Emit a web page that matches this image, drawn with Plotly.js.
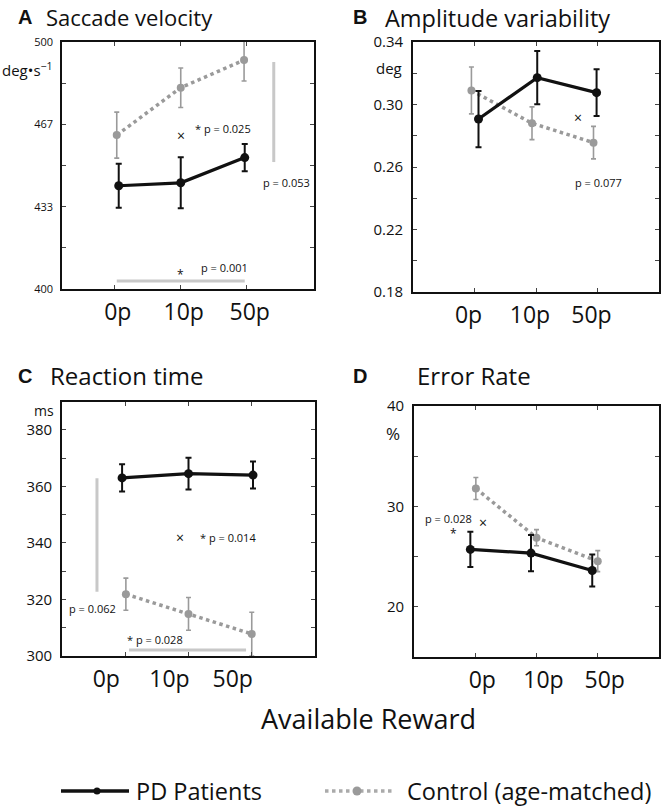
<!DOCTYPE html>
<html><head><meta charset="utf-8">
<script src="https://cdn.plot.ly/plotly-3.0.1.min.js"></script>
<style>html,body{margin:0;padding:0;background:#fff}#chart{width:661px;height:810px}</style>
</head><body><div id="chart"></div>
<script>
// ---------- data ----------
const rewards = ['0p', '10p', '50p'];
const rewardPos = [1, 2, 3];

// A: saccade velocity (deg/s)
const velPD = [441.8, 443.0, 453.2];
const velPDErr = [8.9, 10.3, 5.5];
const velCtl = [462.3, 481.5, 492.7];
const velCtlErr = [9.3, 8.0, 8.5];
const velTickVals = [400, 433.333, 466.667, 500];
const velTickText = ['400', '433', '467', '500'];
const velMinorStep = 16.667;

// B: amplitude variability (deg)
const ampPD = [0.2907, 0.3172, 0.3076];
const ampPDErr = [0.018, 0.017, 0.015];
const ampCtl = [0.309, 0.288, 0.2756];
const ampCtlErr = [0.015, 0.0105, 0.0104];
const ampTickVals = [0.18, 0.22, 0.26, 0.30, 0.34];
const ampTickText = ['0.18', '0.22', '0.26', '0.30', '0.34'];
const ampMinorStep = 0.02;

// C: reaction time (ms)
const rtPD = [363.0, 364.5, 364.0];
const rtPDErr = [4.8, 5.6, 4.8];
const rtCtl = [321.8, 314.8, 307.7];
const rtCtlErr = [5.7, 5.8, 7.7];
const rtTickVals = [300, 320, 340, 360, 380];
const rtTickText = ['300', '320', '340', '360', '380'];
const rtMinorStep = 10;

// D: error rate (%)
const erPD = [25.7, 25.33, 23.6];
const erPDErr = [1.75, 1.8, 1.6];
const erCtl = [31.77, 26.87, 24.53];
const erCtlErr = [1.1, 0.8, 1.05];
const erTickVals = [20, 30, 40];
const erTickText = ['20', '30', '40'];
const erMinorStep = 5;

// ---------- style ----------
const FONT = 'Open Sans, Noto Sans, sans-serif';
const BOLD = 'Liberation Sans, Arial, sans-serif';
const PD_COL = '#111111';
const CTL_COL = '#9a9a9a';
const SIG_COL = '#c8c8c8';
const W = 661, H = 810;
const px = v => v / W;
const py = v => 1 - v / H;

function pair(ax, pd, pdErr, ctl, ctlErr, pdShift, ctlShift) {
  const xs = ax === 1 ? '' : ax;
  const ctlTrace = {
    x: rewardPos.map((p, i) => p + ctlShift[i]), y: ctl,
    xaxis: 'x' + xs, yaxis: 'y' + xs, type: 'scatter', mode: 'lines+markers',
    line: {color: CTL_COL, width: 3.5, dash: 'dot'},
    marker: {color: CTL_COL, size: 8},
    error_y: {type: 'data', array: ctlErr, visible: true, color: CTL_COL, thickness: 1.6, width: 2.5},
    showlegend: false, hoverinfo: 'skip', cliponaxis: true
  };
  const pdTrace = {
    x: rewardPos.map((p, i) => p + pdShift[i]), y: pd,
    xaxis: 'x' + xs, yaxis: 'y' + xs, type: 'scatter', mode: 'lines+markers',
    line: {color: PD_COL, width: 3.2},
    marker: {color: PD_COL, size: 9},
    error_y: {type: 'data', array: pdErr, visible: true, color: PD_COL, thickness: 2, width: 3},
    showlegend: false, hoverinfo: 'skip'
  };
  return [ctlTrace, pdTrace];
}

const traces = [].concat(
  pair(1, velPD, velPDErr, velCtl, velCtlErr, [0.06, 0, -0.03], [0.03, 0, -0.04]),
  pair(2, ampPD, ampPDErr, ampCtl, ampCtlErr, [0.065, 0.02, -0.015], [-0.05, -0.065, -0.065]),
  pair(3, rtPD, rtPDErr, rtCtl, rtCtlErr, [-0.05, 0, 0.02], [0.01, 0, 0]),
  pair(4, erPD, erPDErr, erCtl, erCtlErr, [-0.08, -0.09, -0.09], [0.01, 0, 0])
);

function xAx(domain, anchor, range, shift) {
  return {domain, anchor, range, tickmode: 'array', tickvals: rewardPos, ticktext: rewards,
    ticks: 'inside', ticklen: 4, tickwidth: 1, tickcolor: '#444',
    showline: true, mirror: 'ticks', linecolor: '#111', linewidth: 1.8,
    showgrid: false, zeroline: false, tickfont: {family: FONT, size: 23, color: '#111'},
    ticklabelstandoff: 2, ticklabelshift: shift, fixedrange: true};
}
function yAx(domain, anchor, range, vals, text, step, size) {
  return {domain, anchor, range, tickmode: 'array', tickvals: vals, ticktext: text,
    ticks: 'inside', ticklen: 4, tickwidth: 1, tickcolor: '#444',
    minor: {tick0: range[0], dtick: step, ticks: 'inside', ticklen: 4, tickwidth: 1, tickcolor: '#444', showgrid: false},
    showline: true, mirror: 'ticks', linecolor: '#111', linewidth: 1.8,
    showgrid: false, zeroline: false, tickfont: {family: FONT, size: size, color: '#111'},
    ticklabelstandoff: 5, fixedrange: true};
}

const layout = {
  width: W, height: H, margin: {l: 0, r: 0, t: 0, b: 0},
  paper_bgcolor: '#fff', plot_bgcolor: '#fff', showlegend: false,
  xaxis: xAx([px(62), px(314)], 'y', [0.2, 4.02], 3),
  yaxis: yAx([py(289), py(42)], 'x', [400, 500], velTickVals, velTickText, velMinorStep, 11),
  xaxis2: xAx([px(413), px(659)], 'y2', [0, 4], -6),
  yaxis2: yAx([py(292), py(42)], 'x2', [0.18, 0.34], ampTickVals, ampTickText, ampMinorStep, 15),
  xaxis3: xAx([px(62), px(315)], 'y3', [0, 4], -19),
  yaxis3: yAx([py(655.7), py(401.7)], 'x3', [300, 390], rtTickVals, rtTickText, rtMinorStep, 15),
  xaxis4: xAx([px(414), px(659)], 'y4', [0, 4], 7),
  yaxis4: yAx([py(656.7), py(406)], 'x4', [15, 40], erTickVals, erTickText, erMinorStep, 15),
  shapes: [], annotations: []
};

// significance bars (data units)
function sigLine(ax, x0, y0, x1, y1) {
  const xs = ax === 1 ? '' : ax;
  layout.shapes.push({type: 'line', xref: 'x' + xs, yref: 'y' + xs, x0, y0, x1, y1,
    line: {color: SIG_COL, width: 3}});
}
sigLine(1, 1.03, 403.2, 2.97, 403.2);
sigLine(1, 3.41, 491.9, 3.41, 451.4);
sigLine(3, 0.553, 362.9, 0.553, 322.7);
sigLine(3, 1.06, 302, 2.91, 302);

function note(ax, x, y, text, size, anchor) {
  const xs = ax === 1 ? '' : ax;
  layout.annotations.push({xref: 'x' + xs, yref: 'y' + xs, x, y, text, showarrow: false,
    xanchor: anchor || 'left', yanchor: 'middle', font: {family: FONT, size: size || 11, color: '#111'}});
}
note(1, 2.0, 462.3, '×', 14, 'center');
note(1, 2.18, 464.8, '* p = 0.025');
note(1, 3.21, 443.3, 'p = 0.053');
note(1, 2.0, 406.0, '*', 12, 'center');
note(1, 2.27, 408.9, 'p = 0.001');
note(2, 2.69, 0.2914, '×', 14, 'center');
note(2, 2.60, 0.2498, 'p = 0.077');
note(3, 1.87, 342, '×', 14, 'center');
note(3, 2.15, 342, '* p = 0.014');
note(3, 0.08, 316.8, 'p = 0.062');
note(3, 1.0, 305.8, '* p = 0.028');
note(4, 0.14, 28.77, 'p = 0.028');
note(4, 0.64, 27.25, '*', 12, 'center');
note(4, 1.13, 28.43, '×', 14, 'center');

function ptext(x, y, text, size, family, anchor) {
  layout.annotations.push({xref: 'paper', yref: 'paper', x: px(x), y: py(y), text, showarrow: false,
    xanchor: anchor || 'left', yanchor: 'middle', font: {family: family || FONT, size, color: '#111'}});
}
// panel titles
ptext(16, 17, '<b>A</b>', 20, BOLD);
ptext(44, 17, 'Saccade velocity', 22);
ptext(351, 17, '<b>B</b>', 20, BOLD);
ptext(383, 18, 'Amplitude variability', 23.5);
ptext(16, 376, '<b>C</b>', 20, BOLD);
ptext(48, 375, 'Reaction time', 24);
ptext(351, 376, '<b>D</b>', 20, BOLD);
ptext(415, 375, 'Error Rate', 24);
// unit labels
ptext(0, 70, 'deg•s<sup>−1</sup>', 15);
ptext(374, 68, 'deg', 15);
ptext(32, 410, 'ms', 14);
ptext(384, 434, '%', 17);
// common x title
ptext(368, 718, 'Available Reward', 27, FONT, 'center');

// legend
const LY = 791;
layout.shapes.push({type: 'line', xref: 'paper', yref: 'paper', x0: px(61), x1: px(129), y0: py(LY), y1: py(LY),
  line: {color: PD_COL, width: 3.5}});
layout.shapes.push({type: 'circle', xref: 'paper', yref: 'paper', x0: px(93.5), x1: px(100.5), y0: py(LY + 3.5), y1: py(LY - 3.5),
  fillcolor: PD_COL, line: {width: 0}});
layout.shapes.push({type: 'line', xref: 'paper', yref: 'paper', x0: px(325), x1: px(394), y0: py(LY), y1: py(LY),
  line: {color: '#aaaaaa', width: 3.5, dash: 'dot'}});
layout.shapes.push({type: 'circle', xref: 'paper', yref: 'paper', x0: px(352.5), x1: px(361.5), y0: py(LY + 4.5), y1: py(LY - 4.5),
  fillcolor: '#9a9a9a', line: {width: 0}});
ptext(134, LY, 'PD Patients', 23.5);
ptext(405, LY, 'Control (age-matched)', 23.5);

Plotly.newPlot('chart', traces, layout, {staticPlot: true, displayModeBar: false});
</script>
</body></html>
